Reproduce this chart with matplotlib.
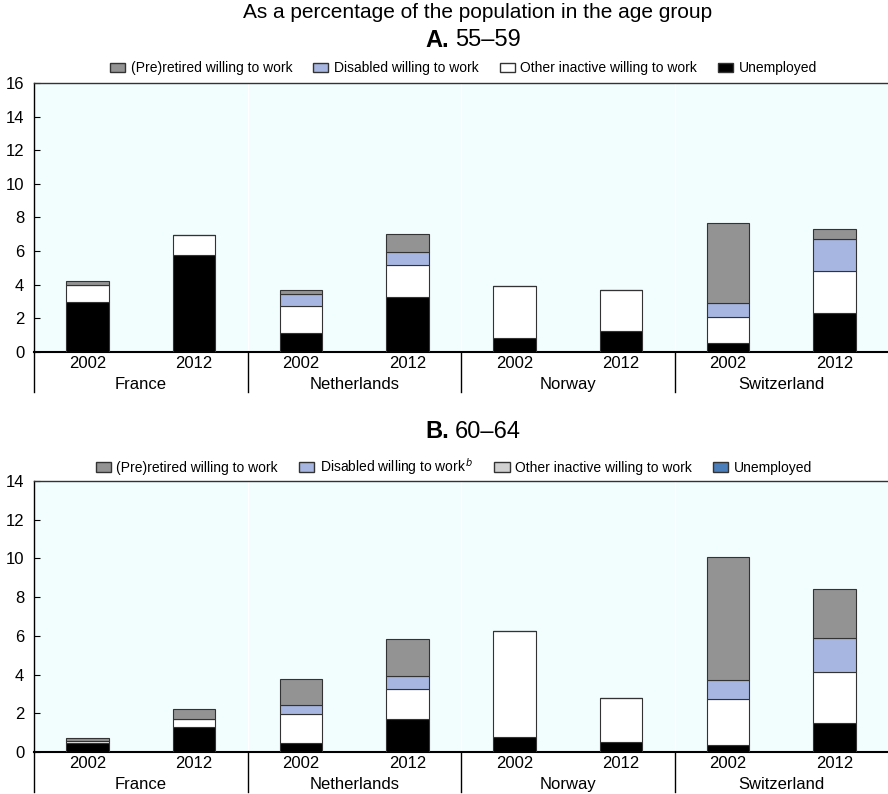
import matplotlib.pyplot as plt
from matplotlib.patches import Patch
from matplotlib.transforms import blended_transform_factory

plt.rcParams['font.family'] = ['Liberation Sans', 'DejaVu Sans']

countries = ['France', 'Netherlands', 'Norway', 'Switzerland']
years = ['2002', '2012'] * 4

# panel A: 55-59
a_unemp = [3.0, 5.76, 1.1, 3.27, 0.85, 1.22, 0.51, 2.31]
a_other = [1.0, 1.19, 1.62, 1.9, 3.07, 2.47, 1.58, 2.5]
a_disab = [0.0, 0.0, 0.75, 0.75, 0.0, 0.0, 0.81, 1.89]
a_preret = [0.22, 0.0, 0.22, 1.08, 0.0, 0.0, 4.77, 0.64]

# panel B: 60-64
b_unemp = [0.45, 1.31, 0.45, 1.69, 0.77, 0.52, 0.36, 1.52]
b_other = [0.14, 0.38, 1.53, 1.55, 5.46, 2.29, 2.36, 2.6]
b_disab = [0.0, 0.0, 0.47, 0.67, 0.0, 0.0, 0.98, 1.75]
b_preret = [0.13, 0.55, 1.34, 1.91, 0.0, 0.0, 6.39, 2.57]

c_pre = '#939393'
c_dis = '#a6b6e0'
c_oth = 'white'
c_une = 'black'
edge = '#333333'
bg = '#f2fdfd'

fig = plt.figure(figsize=(8.88, 7.94), dpi=100)


def draw_panel(ax, unemp, other, disab, preret, ymax):
    x = list(range(8))
    ax.set_facecolor(bg)
    bottom = [0] * 8
    for vals, col in [(unemp, c_une), (other, c_oth), (disab, c_dis), (preret, c_pre)]:
        ax.bar(x, vals, 0.4, bottom=bottom, color=col, edgecolor=edge, linewidth=0.8, zorder=3)
        bottom = [b + v for b, v in zip(bottom, vals)]
    ax.set_xlim(-0.5, 7.5)
    ax.set_ylim(0, ymax)
    ax.set_yticks(range(0, ymax + 1, 2))
    ax.tick_params(axis='y', direction='in', length=4, labelsize=12, pad=7)
    ax.set_xticks(x)
    ax.set_xticklabels(years, fontsize=12)
    ax.tick_params(axis='x', length=0, pad=3)
    ax.spines['right'].set_visible(False)
    ax.spines['bottom'].set_linewidth(1.5)
    ax.spines['left'].set_linewidth(1.0)
    ax.spines['top'].set_linewidth(1.0)
    ax.spines['top'].set_color('#333333')
    for s in [1.5, 3.5, 5.5]:
        ax.axvline(s, color='white', linewidth=1, zorder=1)
    tr = blended_transform_factory(ax.transData, ax.transAxes)
    h = ax.get_position().height * fig.get_figheight() * 100
    for s in [-0.5, 1.5, 3.5, 5.5]:
        ax.plot([s, s], [0, -40 / h], transform=tr, color='black', linewidth=1, clip_on=False)
    for i, c in enumerate(countries):
        ax.text(2 * i + 0.5, -33 / h, c, transform=tr, ha='center', va='center', fontsize=12)


axA = fig.add_axes([0.0383, 0.5567, 0.9617, 0.3388])
draw_panel(axA, a_unemp, a_other, a_disab, a_preret, 16)
axB = fig.add_axes([0.0383, 0.0529, 0.9617, 0.3413])
draw_panel(axB, b_unemp, b_other, b_disab, b_preret, 14)

fig.text(0.538, 0.984, 'As a percentage of the population in the age group', ha='center', va='center',
         fontsize=15)
fig.text(449 / 888, 0.949, 'A.', ha='right', va='center', fontsize=17, fontweight='bold')
fig.text(455 / 888, 0.949, '55–59', ha='left', va='center', fontsize=17)
fig.text(449 / 888, 0.456, 'B.', ha='right', va='center', fontsize=17, fontweight='bold')
fig.text(455 / 888, 0.456, '60–64', ha='left', va='center', fontsize=17)

leg_kw = dict(loc='center', ncol=4, frameon=False, fontsize=10,
              handlelength=1.1, handleheight=0.7, columnspacing=1.5, handletextpad=0.4)

hA = [Patch(facecolor=c_pre, edgecolor=edge), Patch(facecolor=c_dis, edgecolor=edge),
      Patch(facecolor=c_oth, edgecolor=edge), Patch(facecolor=c_une, edgecolor=edge)]
fig.legend(hA, ['(Pre)retired willing to work', 'Disabled willing to work',
                'Other inactive willing to work', 'Unemployed'],
           bbox_to_anchor=(0.522, 0.914), **leg_kw)

hB = [Patch(facecolor=c_pre, edgecolor=edge), Patch(facecolor=c_dis, edgecolor=edge),
      Patch(facecolor='#d0d0d0', edgecolor=edge), Patch(facecolor='#4a7ebb', edgecolor=edge)]
fig.legend(hB, ['(Pre)retired willing to work', r'Disabled willing to work$^{\,b}$',
                'Other inactive willing to work', 'Unemployed'],
           bbox_to_anchor=(0.511, 0.412), **leg_kw)

fig.savefig('out.png', dpi=100)
